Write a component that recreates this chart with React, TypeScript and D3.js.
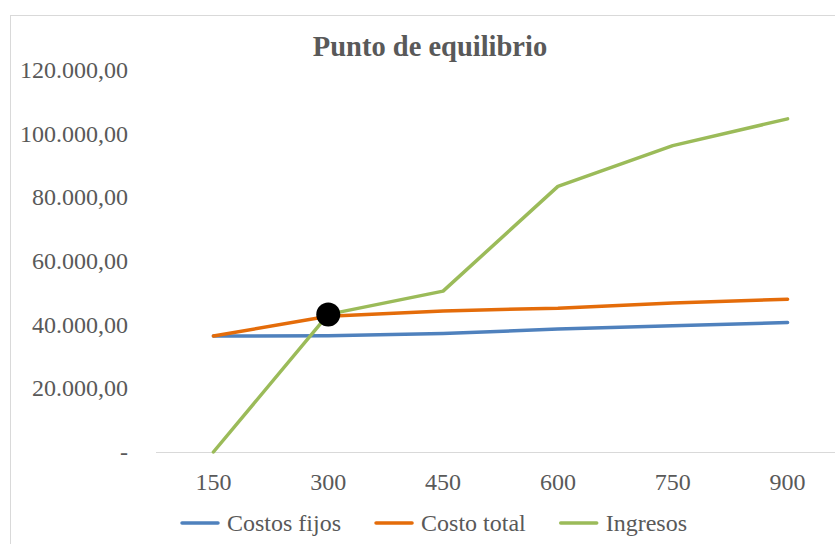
import { useEffect, useRef } from "react";
import * as d3 from "d3";

const units = ["150", "300", "450", "600", "750", "900"];
const costosFijos = [36400, 36500, 37200, 38600, 39600, 40650];
const costoTotal = [36400, 42600, 44300, 45150, 46800, 47950];
const ingresos = [0, 43200, 50500, 83400, 96200, 104600];
const breakEven = { unit: "300", value: 43200 };
const yTicks = [0, 20000, 40000, 60000, 80000, 100000, 120000];

const seriesList = [
  { name: "Costos fijos", values: costosFijos, color: "#4f81bd" },
  { name: "Costo total", values: costoTotal, color: "#e46c0a" },
  { name: "Ingresos", values: ingresos, color: "#9bbb59" },
];

const W = 835;
const H = 544;
const FONT = "'Liberation Serif', 'Times New Roman', serif";
const TEXT = "#595959";

export default function App() {
  const svgRef = useRef<SVGSVGElement>(null);

  useEffect(() => {
    if (!svgRef.current) return;
    const svg = d3.select(svgRef.current);
    svg.selectAll("*").remove();

    // chart frame (runs past the right and bottom edges like the source)
    svg.append("rect")
      .attr("x", 10.5).attr("y", 15.5)
      .attr("width", W + 20).attr("height", H + 20)
      .attr("fill", "#fff").attr("stroke", "#d9d9d9").attr("stroke-width", 1);

    svg.append("text")
      .attr("x", 430).attr("y", 56)
      .attr("text-anchor", "middle")
      .attr("font-family", FONT).attr("font-size", 28.5).attr("font-weight", "bold")
      .attr("fill", TEXT)
      .text("Punto de equilibrio");

    const x = d3.scaleBand<string>().domain(units).range([156, 845]);
    const y = d3.scaleLinear().domain([0, 120000]).range([452, 69.8]);
    const cx = (u: string) => (x(u) ?? 0) + x.bandwidth() / 2;

    const locale = d3.formatLocale({ decimal: ",", thousands: ".", grouping: [3], currency: ["", ""] });
    const fmt = locale.format(",.2f");

    // y labels
    svg.append("g")
      .selectAll("text")
      .data(yTicks)
      .join("text")
      .attr("x", 128)
      .attr("y", (d) => y(d))
      .attr("dy", "0.34em")
      .attr("text-anchor", "end")
      .attr("font-family", FONT).attr("font-size", 24)
      .attr("fill", TEXT)
      .text((d) => (d === 0 ? "-" : fmt(d)));

    // x axis line
    svg.append("line")
      .attr("x1", 156).attr("x2", 845)
      .attr("y1", y(0) + 0.5).attr("y2", y(0) + 0.5)
      .attr("stroke", "#d9d9d9").attr("stroke-width", 1);

    svg.append("g")
      .selectAll("text")
      .data(units)
      .join("text")
      .attr("x", (d) => cx(d))
      .attr("y", 490)
      .attr("text-anchor", "middle")
      .attr("font-family", FONT).attr("font-size", 24)
      .attr("fill", TEXT)
      .text((d) => d);

    const line = d3.line<number>()
      .x((_, i) => cx(units[i]))
      .y((d) => y(d));

    svg.append("g")
      .selectAll("path")
      .data(seriesList)
      .join("path")
      .attr("d", (s) => line(s.values))
      .attr("fill", "none")
      .attr("stroke", (s) => s.color)
      .attr("stroke-width", 3.5)
      .attr("stroke-linejoin", "round")
      .attr("stroke-linecap", "round");

    svg.append("circle")
      .attr("cx", cx(breakEven.unit))
      .attr("cy", y(breakEven.value))
      .attr("r", 12)
      .attr("fill", "#000");

    // legend
    const legend = svg.append("g").attr("transform", "translate(182,523)");
    let lx = 0;
    seriesList.forEach((s) => {
      const g = legend.append("g").attr("transform", `translate(${lx},0)`);
      g.append("line")
        .attr("x1", 0).attr("x2", 36)
        .attr("stroke", s.color).attr("stroke-width", 3.5).attr("stroke-linecap", "round");
      const t = g.append("text")
        .attr("x", 45).attr("y", 0).attr("dy", "0.34em")
        .attr("font-family", FONT).attr("font-size", 24)
        .attr("fill", TEXT)
        .text(s.name);
      const tw = (t.node() as SVGTextElement).getComputedTextLength();
      lx += 45 + tw + 35;
    });
  }, []);

  return (
    <svg
      ref={svgRef}
      width={W}
      height={H}
      style={{ position: "absolute", left: 0, top: 0, background: "#fff" }}
    />
  );
}
